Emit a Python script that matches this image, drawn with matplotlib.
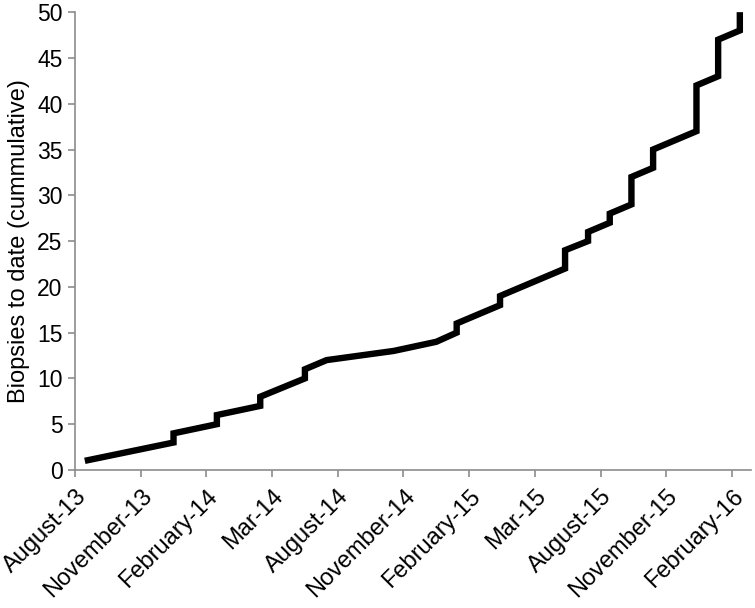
#%% Imports
import numpy as np
import matplotlib
matplotlib.use('Agg')
import matplotlib.pyplot as plt
import matplotlib.transforms as mtransforms

# Data: x in quarters since August-13 (tick spacing = 3 months), y = cumulative biopsies
quarter_labels = ['August-13', 'November-13', 'February-14', 'Mar-14', 'August-14',
                  'November-14', 'February-15', 'Mar-15', 'August-15', 'November-15',
                  'February-16']
t_quarter = [0.15, 1.50, 1.50, 2.16, 2.16, 2.82, 2.82, 3.50, 3.50, 3.83, 4.85, 5.50,
             5.81, 5.81, 6.47, 6.47, 7.46, 7.46, 7.81, 7.81, 8.14, 8.14, 8.47, 8.47,
             8.80, 8.80, 9.46, 9.46, 9.79, 9.79, 10.12, 10.12]
biopsies  = [1, 3, 4, 5, 6, 7, 8, 10, 11, 12, 13, 14,
             15, 16, 18, 19, 22, 24, 25, 26, 27, 28, 29, 32,
             33, 35, 37, 42, 43, 47, 48, 50]

# Plotting params:
_axis_col = '#8c8c8c'
plt.rcParams['font.family'] = ['Liberation Sans', 'DejaVu Sans']

#%% Figure
fig = plt.figure(figsize=(7.55, 6.08), dpi=100)
ax = fig.add_axes([0.0993, 0.227, 0.8954, 0.753])

ax.plot(t_quarter, biopsies, color='black', lw=4.6, solid_joinstyle='miter',
        solid_capstyle='butt')

ax.set_xlim(0, 10.29)
ax.set_ylim(0, 50)
ax.set_xticks(np.arange(len(quarter_labels)))
ax.set_xticklabels([])
ax.set_yticks(np.arange(0, 51, 5))

# slanted date labels, ends sitting just right of / below each tick
shift = mtransforms.ScaledTranslation(0.08, -0.23, fig.dpi_scale_trans)
for i, lab in enumerate(quarter_labels):
    ax.text(i, 0, lab, transform=ax.get_xaxis_transform() + shift,
            rotation=45, ha='right', va='center', rotation_mode='anchor',
            fontsize=17, clip_on=False)

for side in ['top', 'right']:
    ax.spines[side].set_visible(False)
for side in ['left', 'bottom']:
    ax.spines[side].set_color(_axis_col)
    ax.spines[side].set_linewidth(1.2)
ax.tick_params(axis='both', direction='out', length=5, width=1.2, color=_axis_col,
               labelsize=16.5, labelcolor='black')
ax.tick_params(axis='y', pad=4)

ax.set_ylabel('Biopsies to date (cummulative)', fontsize=17, labelpad=5)

fig.savefig('out.png', dpi=100)
